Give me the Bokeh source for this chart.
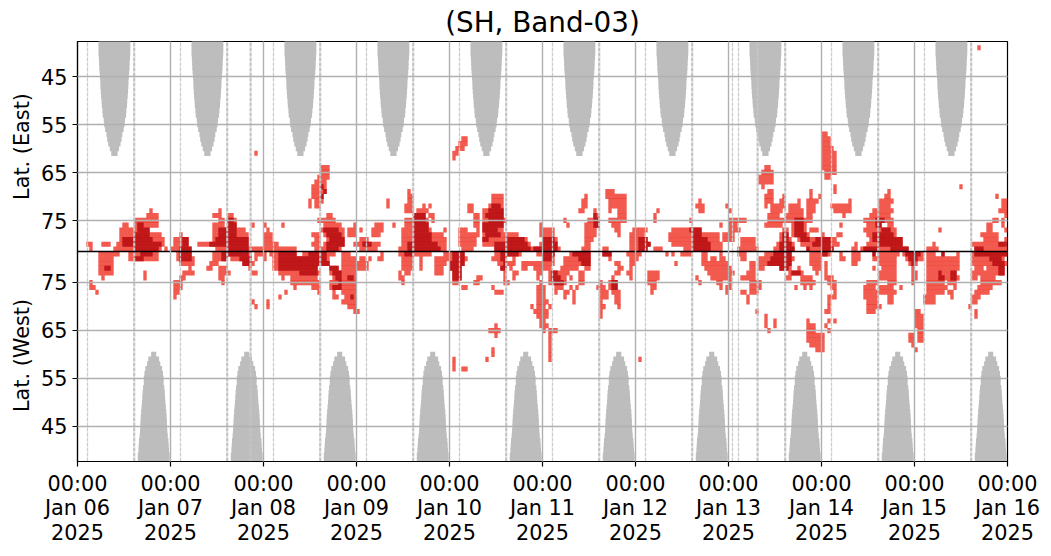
from datetime import datetime, timezone
from math import pi

from bokeh.embed import file_html
from bokeh.models import ColumnDataSource, FixedTicker, Label
from bokeh.plotting import figure
from bokeh.resources import INLINE

# time is kept in columns, 31 columns per day from t_start
# rows are degrees away from the centre line, + is east, - is west
t_start = datetime(2025, 1, 6, tzinfo=timezone.utc).timestamp() * 1000
col_ms = 86400000 / 31

day_labels = ["Jan 06", "Jan 07", "Jan 08", "Jan 09", "Jan 10", "Jan 11",
              "Jan 12", "Jan 13", "Jan 14", "Jan 15", "Jan 16"]
lat_labels = ["45", "55", "65", "75", "75", "65", "55", "45"]
lat_ticks = [36.46, 26.46, 16.46, 6.46, -6.46, -16.46, -26.46, -36.46]

light_east = {
    1: [(4,5),(12,28),(29,30),(31,38),(46,73),(79,88),(94,100),(107,123),(128,132),(139,161),(168,171),(175,177),(184,190),(192,195),(202,215),(220,227),(232,239),(243,252),(258,260),(261,277),(283,287),(299,310)],
    2: [(3,5),(8,11),(13,29),(32,37),(40,57),(62,67),(78,81),(82,89),(92,101),(108,123),(127,133),(135,151),(154,160),(169,171),(184,191),(198,215),(221,226),(233,239),(241,254),(259,260),(263,275),(285,286),(298,309)],
    3: [(14,29),(32,37),(45,57),(62,65),(79,81),(83,89),(94,97),(108,123),(127,133),(135,150),(155,160),(169,172),(184,190),(197,214),(215,219),(221,226),(234,238),(240,253),(264,275),(302,307),(309,310)],
    4: [(14,28),(34,35),(45,57),(62,65),(78,81),(82,89),(90,93),(98,101),(108,122),(127,134),(135,147),(154,159),(169,173),(180,181),(184,189),(197,214),(215,219),(234,237),(238,244),(248,249),(253,255),(263,273),(301,307)],
    5: [(14,24),(45,56),(63,64),(81,89),(90,93),(94,95),(98,102),(108,118),(122,123),(127,130),(133,134),(135,142),(154,159),(169,173),(179,181),(185,190),(198,208),(217,221),(235,237),(238,243),(244,247),(262,273),(287,288),(303,305),(309,310)],
    6: [(15,17),(19,27),(45,49),(50,53),(58,59),(62,63),(68,69),(82,88),(92,93),(99,102),(105,106),(109,117),(132,134),(135,142),(154,155),(163,164),(169,174),(178,181),(214,215),(217,220),(229,235),(238,243),(254,255),(263,268),(270,272),(303,305),(308,309)],
    7: [(19,27),(47,49),(50,53),(80,86),(109,117),(118,119),(132,134),(135,143),(162,163),(170,174),(177,183),(192,193),(204,205),(217,223),(230,245),(262,272),(305,307),(308,309)],
    8: [(23,27),(45,48),(50,52),(83,85),(112,116),(117,119),(132,134),(135,142),(172,174),(180,183),(192,193),(230,234),(236,242),(243,245),(255,256),(264,271),(309,310)],
    9: [(24,25),(47,48),(109,112),(113,117),(130,132),(135,142),(167,169),(172,173),(177,178),(180,183),(193,194),(207,209),(217,218),(231,235),(237,242),(243,246),(252,258),(265,272),(307,310)],
    10: [(77,78),(79,81),(103,104),(109,112),(115,116),(117,118),(130,132),(137,142),(168,170),(177,183),(206,209),(216,217),(229,230),(231,236),(237,241),(243,246),(251,258),(267,271),(308,310)],
    11: [(77,78),(79,82),(103,104),(110,112),(138,142),(168,170),(177,183),(207,208),(229,232),(234,236),(240,241),(243,247),(257,258),(267,272),(308,310)],
    12: [(78,82),(110,112),(138,142),(169,170),(176,183),(229,232),(235,236),(244,245),(247,248),(269,271),(306,307)],
    13: [(78,83),(110,111),(176,179),(230,232),(244,245),(252,253),(270,271)],
    14: [(78,83),(228,229),(252,253),(294,295)],
    15: [(79,83),(227,232)],
    16: [(80,84),(227,232),(249,251)],
    17: [(81,84),(228,232),(249,253)],
    18: [(81,84),(229,231),(248,253)],
    19: [(248,253)],
    20: [(125,126),(248,253)],
    21: [(59,60),(125,127),(248,253)],
    22: [(126,129),(248,252)],
    23: [(127,130),(248,251)],
    24: [(128,130),(248,251)],
    25: [(248,250)],
    43: [(300,301)],
}
light_west = {
    -1: [(7,14),(17,27),(33,38),(45,58),(59,63),(64,73),(75,86),(88,91),(101,102),(107,118),(122,129),(139,148),(153,159),(164,171),(175,178),(183,188),(196,197),(198,199),(201,205),(208,210),(214,215),(220,223),(229,238),(244,251),(254,255),(258,261),(265,266),(267,274),(275,282),(283,286),(288,289),(293,294),(298,310)],
    -2: [(7,12),(17,27),(33,39),(45,50),(51,58),(59,60),(62,63),(65,84),(88,93),(94,96),(97,98),(100,102),(108,112),(114,115),(119,130),(138,143),(145,146),(155,159),(162,171),(177,178),(184,187),(208,210),(211,213),(214,216),(221,223),(227,239),(244,248),(254,256),(258,261),(265,273),(276,282),(283,294),(298,309)],
    -3: [(7,12),(34,39),(44,47),(55,59),(65,84),(88,97),(108,112),(114,115),(119,123),(124,129),(140,146),(148,159),(162,171),(179,181),(184,186),(199,200),(208,217),(224,226),(227,238),(244,248),(249,250),(258,260),(267,273),(277,280),(283,294),(298,310)],
    -4: [(7,12),(37,38),(43,45),(47,50),(57,58),(65,80),(84,87),(88,97),(108,112),(114,115),(119,122),(124,128),(141,143),(144,145),(148,150),(152,158),(161,167),(169,171),(180,182),(184,185),(209,218),(224,226),(227,229),(234,238),(240,241),(245,248),(249,250),(265,266),(268,273),(278,279),(283,294),(299,302),(303,309)],
    -5: [(7,12),(22,23),(35,39),(47,51),(58,60),(67,81),(84,93),(107,108),(109,111),(119,122),(125,128),(142,143),(145,147),(153,155),(157,164),(167,169),(179,181),(183,185),(190,194),(210,219),(223,226),(237,242),(246,247),(249,250),(267,273),(278,280),(283,293),(298,309)],
    -6: [(8,9),(22,23),(34,36),(47,49),(68,69),(71,80),(85,93),(107,109),(125,128),(133,135),(142,143),(145,146),(153,154),(157,163),(164,165),(167,169),(178,179),(184,185),(190,194),(206,207),(211,218),(221,226),(236,238),(241,245),(249,252),(267,273),(278,280),(283,294),(298,300),(301,306)],
    -7: [(4,5),(32,35),(48,49),(71,81),(84,93),(108,109),(125,127),(132,134),(142,144),(154,155),(157,163),(167,169),(174,175),(177,180),(190,193),(207,208),(213,215),(217,218),(224,228),(241,246),(250,253),(263,267),(270,273),(278,279),(283,289),(290,293),(301,308)],
    -8: [(4,6),(32,35),(72,73),(78,81),(84,93),(128,130),(138,139),(153,156),(159,162),(164,165),(166,167),(173,176),(177,180),(191,193),(214,215),(216,218),(224,228),(239,240),(242,243),(244,245),(251,253),(262,266),(267,272),(274,275),(283,290),(292,293),(300,305)],
    -9: [(6,7),(32,34),(69,70),(80,81),(85,86),(88,93),(139,142),(153,156),(159,160),(162,164),(165,166),(174,177),(178,181),(191,192),(216,217),(221,223),(224,227),(252,253),(262,273),(283,289),(290,292),(299,304)],
    -10: [(32,33),(67,68),(85,87),(89,93),(153,156),(162,163),(165,166),(174,177),(179,181),(223,224),(250,253),(262,267),(270,272),(282,286),(291,292),(298,301)],
    -11: [(58,59),(63,64),(88,93),(153,157),(165,166),(174,175),(179,181),(223,224),(250,251),(263,267),(270,272),(282,286),(298,300)],
    -12: [(59,60),(63,64),(90,93),(151,152),(153,156),(157,158),(174,176),(180,181),(250,251),(263,268),(297,298)],
    -13: [(92,94),(152,157),(174,175),(226,227),(249,251),(263,266),(279,281),(299,300)],
    -14: [(153,157),(174,175),(229,230),(279,282),(299,300)],
    -15: [(154,156),(229,230),(232,233),(243,244),(250,251),(252,253),(279,282)],
    -16: [(139,140),(154,157),(229,230),(232,233),(243,246),(249,250),(279,282)],
    -17: [(137,141),(155,156),(157,160),(230,231),(243,246),(250,251),(280,282)],
    -18: [(139,140),(157,158),(243,249),(277,279),(280,282)],
    -19: [(157,158),(243,249),(277,279),(280,282)],
    -20: [(157,158),(244,249),(278,279)],
    -21: [(138,139),(157,158),(246,249),(279,280)],
    -22: [(138,139),(157,158)],
    -23: [(125,126),(136,137),(157,158),(187,188)],
    -24: [(125,126)],
    -25: [(125,126),(128,130)],
}
dark_east = {
    1: [(19,27),(34,38),(50,57),(83,87),(110,121),(139,151),(152,160),(187,190),(205,211),(234,239),(243,244),(248,252),(262,267),(271,277),(299,302)],
    2: [(15,28),(35,37),(44,57),(83,89),(95,98),(110,120),(139,150),(155,160),(187,191),(205,211),(234,238),(245,251),(267,275),(307,310)],
    3: [(15,25),(35,37),(46,57),(84,89),(112,118),(135,137),(143,149),(155,159),(187,190),(205,210),(235,237),(241,244),(246,251),(265,275)],
    4: [(19,24),(47,53),(83,88),(112,118),(136,141),(205,208),(235,237),(239,243),(265,272)],
    5: [(20,24),(47,53),(82,87),(112,117),(135,140),(204,208),(239,242),(268,271)],
    6: [(20,22),(50,53),(112,117),(135,142),(172,174),(239,242),(266,268)],
    7: [(50,52),(112,116),(137,142),(172,174),(239,242),(266,269)],
    8: [(112,116),(136,142),(172,173)],
    9: [(137,142)],
    10: [(138,141)],
    12: [(81,82)],
    13: [(82,83)],
    14: [(81,82)],
}
dark_west = {
    -1: [(21,25),(34,38),(48,57),(67,73),(77,83),(109,112),(125,129),(141,147),(155,159),(165,171),(175,178),(232,238),(248,250),(265,266),(276,281),(288,289),(299,310)],
    -2: [(19,22),(34,38),(48,50),(54,58),(67,83),(125,129),(141,143),(155,158),(167,171),(231,238),(277,280),(304,308)],
    -3: [(55,58),(67,84),(124,129),(142,143),(168,171),(230,238),(278,279),(305,309)],
    -4: [(9,11),(67,80),(84,87),(124,128),(141,143),(234,237),(307,309)],
    -5: [(74,80),(85,88),(125,128),(158,160),(238,241),(287,288),(291,293),(307,309)],
    -6: [(86,88),(90,92),(125,128),(158,161),(287,289),(291,293)],
    -7: [(87,88),(159,162),(178,180)],
    -8: [(85,88),(178,180)],
    -10: [(91,92)],
}

# grey blocks: centre column of each one, half width (in columns) of each row
grey_top_centres = [12.3, 43.3, 74.3, 105.3, 136.3, 167.3, 198.3, 229.3, 260.3, 291.3]
grey_top_rows = [21, 22, 23, 24, 25, 26, 27, 28, 29, 30, 31, 32, 33, 34, 35, 36, 37, 38, 39, 40, 41, 42, 43, 44]
grey_top_half = [1.05, 1.55, 2.05, 2.4, 2.65, 3.1, 3.4, 3.55, 3.9, 4.0, 4.2, 4.3, 4.45, 4.55, 4.65, 4.7, 4.8, 4.95, 5.05, 5.1, 5.2, 5.3, 5.3, 5.3]
grey_low_centres = [25.4, 56.4, 87.4, 118.4, 149.4, 180.4, 211.4, 242.4, 273.4, 304.4]
grey_low_rows = [-22, -23, -24, -25, -26, -27, -28, -29, -30, -31, -32, -33, -34, -35, -36, -37, -38, -39, -40, -41, -42, -43, -44]
grey_low_half = [0.85, 1.8, 2.2, 2.8, 3.1, 3.3, 3.3, 3.55, 3.7, 3.8, 3.9, 4.05, 4.2, 4.3, 4.4, 4.45, 4.55, 4.7, 4.9, 5.0, 5.1, 5.3, 5.3]

# columns where a whole scan is grey
thin_scans = [3.33, 34.33, 65.33, 96.33, 127.33, 158.33, 189.33, 220.33, 251.33, 282.33, 218.33]
thick_scans = [18.9, 49.9, 80.9, 111.9, 142.9, 173.9, 204.9, 235.9, 266.9, 297.9, 57.7, 226.7]


def t(col):
    return t_start + col * col_ms


def row_edges(row):
    return (row - 1, row) if row > 0 else (row, row + 1)


def cells(spans):
    left, right, bottom, top = [], [], [], []
    for row, pieces in spans.items():
        cols = set()
        for a, b in pieces:
            cols.update(range(a, b))
        y0, y1 = row_edges(row)
        for c in sorted(cols):
            left.append(t(c - 0.06))
            right.append(t(c + 1.06))
            bottom.append(y0 - 0.03)
            top.append(y1 + 0.03)
    return ColumnDataSource(dict(left=left, right=right, bottom=bottom, top=top))


def blocks(centres, rows, half):
    left, right, bottom, top = [], [], [], []
    for c in centres:
        for row, h in zip(rows, half):
            y0, y1 = row_edges(row)
            left.append(t(c - h))
            right.append(t(c + h))
            bottom.append(y0 - 0.1)
            top.append(y1 + 0.1)
    return ColumnDataSource(dict(left=left, right=right, bottom=bottom, top=top))


p = figure(frame_width=930, frame_height=420, x_axis_type="datetime",
           x_range=(t(0), t(310)), y_range=(-43.8, 43.8),
           output_backend="svg", toolbar_location=None,
           min_border_left=77, min_border_right=44, min_border_top=0, min_border_bottom=95)

p.title.text = "(SH, Band-03)"
p.title.align = "center"
p.title.text_font = "DejaVu Sans"
p.title.text_font_size = "27.8px"
p.title.text_font_style = "normal"
p.title.text_color = "black"
p.title.standoff = 6

p.quad(left="left", right="right", bottom="bottom", top="top", source=blocks(grey_top_centres, grey_top_rows, grey_top_half),
       fill_color="#bdbdbd", line_color=None)
p.quad(left="left", right="right", bottom="bottom", top="top", source=blocks(grey_low_centres, grey_low_rows, grey_low_half),
       fill_color="#bdbdbd", line_color=None)

p.quad(left="left", right="right", bottom="bottom", top="top", source=cells({**light_east, **light_west}),
       fill_color="#ee2c1e", fill_alpha=0.78, line_color=None)
p.quad(left="left", right="right", bottom="bottom", top="top", source=cells({**dark_east, **dark_west}),
       fill_color="#bb1015", fill_alpha=0.92, line_color=None)

thin = p.segment(x0=[t(c) for c in thin_scans], x1=[t(c) for c in thin_scans],
                 y0=[-43.8] * len(thin_scans), y1=[43.8] * len(thin_scans),
                 line_color="#cccccc", line_width=1.3)
thin.glyph.line_dash = [4, 1]
thick = p.segment(x0=[t(c) for c in thick_scans], x1=[t(c) for c in thick_scans],
                  y0=[-43.8] * len(thick_scans), y1=[43.8] * len(thick_scans),
                  line_color="#c4c4c4", line_width=2.2)
thick.glyph.line_dash = [4, 1]

p.line([t(0), t(310)], [0, 0], line_color="black", line_width=1.6)

# axes
p.xaxis.ticker = FixedTicker(ticks=[t(31 * i) for i in range(11)])
p.xaxis.major_label_overrides = {t(31 * i): "00:00\n" + day + "\n2025" for i, day in enumerate(day_labels)}
p.xaxis.major_label_text_line_height = 1.04
p.yaxis.ticker = FixedTicker(ticks=lat_ticks)
p.yaxis.major_label_overrides = dict(zip(lat_ticks, lat_labels))
for ax in (p.xaxis, p.yaxis):
    ax.major_label_text_font = "DejaVu Sans"
    ax.major_label_text_font_size = "20.8px"
    ax.major_label_text_color = "black"
    ax.major_tick_in = 0
    ax.major_tick_out = 5
    ax.minor_tick_in = 0
    ax.minor_tick_out = 0
    ax.axis_line_color = "black"
    ax.axis_line_width = 1.2
    ax.major_tick_line_color = "black"
    ax.major_tick_line_width = 1.2

p.xgrid.ticker = FixedTicker(ticks=[t(31 * i) for i in range(11)])
p.ygrid.ticker = FixedTicker(ticks=lat_ticks)
p.grid.grid_line_color = "#b0b0b0"
p.grid.grid_line_width = 1.4
p.grid.level = "overlay"
p.outline_line_color = "black"
p.outline_line_alpha = 1
p.outline_line_width = 1.2
p.background_fill_color = "white"

# one label sits in each side panel so they do not stack and push the frame over,
# canvas units put both at the left edge
for text, y, side in [("Lat. (East)", 146, "right"), ("Lat. (West)", 355, "left")]:
    p.add_layout(Label(x=21, y=y, x_units="canvas", y_units="canvas", text=text, angle=pi / 2,
                       text_align="center", text_baseline="middle", text_font="DejaVu Sans",
                       text_font_size="20.8px", text_color="black"), side)

open("out.html", "w").write(file_html(p, INLINE))
